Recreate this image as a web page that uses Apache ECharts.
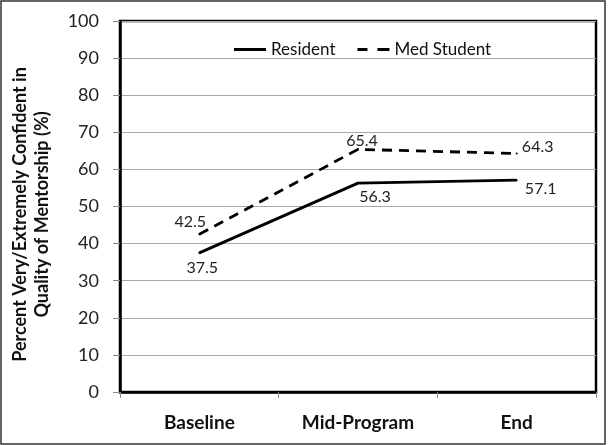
<!DOCTYPE html>
<html><head><meta charset="utf-8">
<script src="https://cdn.jsdelivr.net/npm/echarts@6/dist/echarts.min.js"></script>
<style>html,body{margin:0;padding:0;background:#fff}#c{width:609px;height:445px}</style>
</head><body><div id="c"></div>
<script>
var categories = ["Baseline", "Mid-Program", "End"];
var resident = [37.5, 56.3, 57.1];
var medStudent = [42.5, 65.4, 64.3];
var yTicks = [0, 10, 20, 30, 40, 50, 60, 70, 80, 90, 100];

var font = "Lato, 'Open Sans', sans-serif";
var chart = echarts.init(document.getElementById('c'));
var resLabelOff = [[3, 15], [17, 14], [24, 9]];
var medLabelOff = [[-9, -12], [4, -9], [21, -7]];
function mk(vals, offs) {
  return vals.map(function (v, i) {
    return {value: v, label: {position: 'inside', offset: offs[i]}};
  });
}
chart.setOption({
  animation: false,
  backgroundColor: '#fff',
  graphic: [{
    type: 'rect', shape: {x: 1, y: 1, width: 604, height: 443},
    style: {fill: 'none', stroke: '#333', lineWidth: 1.5}, z: 100
  }],
  grid: {left: 120, right: 13, top: 21, bottom: 53, show: true, borderColor: '#000', borderWidth: 2.5,
    backgroundColor: '#fff', containLabel: false, outerBoundsMode: 'none'},
  legend: {
    top: 36, left: 229, itemGap: 22, itemWidth: 32, itemHeight: 3,
    textStyle: {fontFamily: font, fontSize: 17, color: '#111'},
    data: [
      {name: 'Resident', icon: 'path://M0,0 L32,0 L32,3 L0,3 Z'},
      {name: 'Med Student', icon: 'path://M0,0 L10,0 L10,3 L0,3 Z M20,0 L32,0 L32,3 L20,3 Z'}
    ]
  },
  xAxis: {
    type: 'category', data: categories, boundaryGap: true,
    axisLine: {lineStyle: {color: '#000', width: 2.5}},
    axisTick: {show: true, length: 6, lineStyle: {color: '#888'}},
    axisLabel: {fontFamily: font, fontSize: 19, fontWeight: 'bold', color: '#111', margin: 21}
  },
  yAxis: {
    type: 'value', min: 0, max: 100, interval: 10,
    name: 'Percent Very/Extremely Confident in\nQuality of Mentorship (%)',
    nameLocation: 'middle', nameGap: 67, nameRotate: 90,
    nameTextStyle: {fontFamily: font, fontSize: 18, fontWeight: 'bold', color: '#111', lineHeight: 22, padding: [0, 16, 0, 0]},
    axisLine: {show: true, lineStyle: {color: '#000', width: 2.5}},
    axisTick: {show: true, length: 7, lineStyle: {color: '#888'}},
    splitLine: {lineStyle: {color: '#a8a8a8', width: 1}},
    axisLabel: {fontFamily: font, fontSize: 18, color: '#222', margin: 21,
      formatter: function (v) { return yTicks.indexOf(v) >= 0 ? String(v) : ''; }}
  },
  series: [
    {name: 'Resident', type: 'line', data: mk(resident, resLabelOff), symbol: 'circle', symbolSize: 2, showSymbol: true,
      lineStyle: {color: '#000', width: 2.8}, itemStyle: {color: '#000'},
      label: {show: true, fontFamily: font, fontSize: 16, color: '#222'}},
    {name: 'Med Student', type: 'line', data: mk(medStudent, medLabelOff), symbol: 'circle', symbolSize: 2, showSymbol: true,
      lineStyle: {color: '#000', width: 2.8, type: [10, 7]}, itemStyle: {color: '#000'},
      label: {show: true, fontFamily: font, fontSize: 16, color: '#222'}}
  ]
});
</script></body></html>
